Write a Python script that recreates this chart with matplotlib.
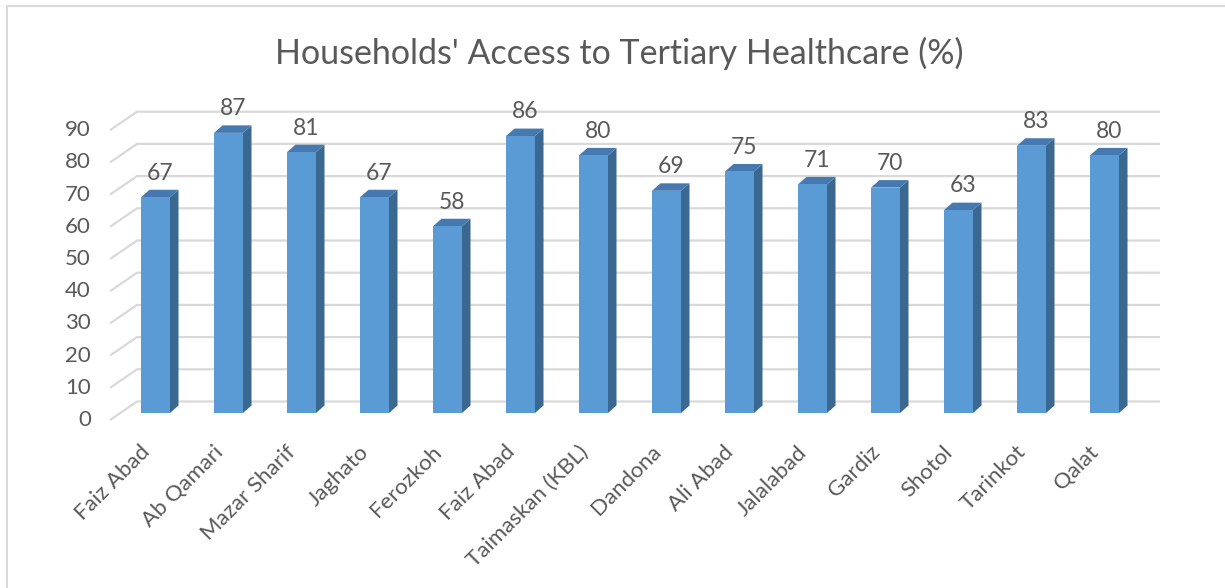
import matplotlib
matplotlib.use("Agg")
import matplotlib.pyplot as plt
from matplotlib.patches import Polygon, Rectangle

plt.rcParams['font.family'] = ['Lato', 'DejaVu Sans']

# Households' access to tertiary healthcare, by district (%)
districts = ['Faiz Abad', 'Ab Qamari', 'Mazar Sharif', 'Jaghato', 'Ferozkoh',
             'Faiz Abad', 'Taimaskan (KBL)', 'Dandona', 'Ali Abad', 'Jalalabad',
             'Gardiz', 'Shotol', 'Tarinkot', 'Qalat']
access_pct = [67, 87, 81, 67, 58, 86, 80, 69, 75, 71, 70, 63, 83, 80]
y_ticks = [0, 10, 20, 30, 40, 50, 60, 70, 80, 90]

TEXT = '#595959'
GRID = '#d9d9d9'
FRONT = '#5b9bd5'
TOP = '#4679b0'
SIDE = '#3a6891'

W, H = 1225, 588
# pixel layout of the plot: category 0 sits at x0, value 0 at y0
x0, x_step = 155.5, 73.0
y0, y_step = 413.0, 3.22

fig = plt.figure(figsize=(W / 100, H / 100), dpi=100)
ax = fig.add_axes([0, 0, 1, 1])
ax.set_xlim(-x0 / x_step, (W - x0) / x_step)
ax.set_ylim((y0 - H) / y_step, y0 / y_step)
ax.axis('off')

# 3-D look: depth of bars and of the back wall, in data units
bar_w = 29 / x_step
depth_x, depth_y = 8.5 / x_step, 7.5 / y_step
wall_front_x, wall_front_dy = -0.623, -7 / y_step
wall_back_x, wall_back_dy = -0.253, 11.5 / y_step
wall_end_x = 13.76

for v in y_ticks:
    ax.plot([wall_front_x, wall_back_x, wall_end_x],
            [v + wall_front_dy, v + wall_back_dy, v + wall_back_dy],
            color=GRID, lw=1.6, zorder=1, solid_capstyle='butt')
    ax.text(-0.884, v + wall_front_dy, str(v), ha='right', va='center',
            fontsize=16, color=TEXT)


def draw_bar(ax, x, v):
    l, r = x - bar_w / 2, x + bar_w / 2
    side = [(r, 0), (r + depth_x, depth_y), (r + depth_x, v + depth_y), (r, v)]
    top = [(l, v), (r, v), (r + depth_x, v + depth_y), (l + depth_x, v + depth_y)]
    ax.add_patch(Polygon(side, closed=True, facecolor=SIDE, edgecolor='none', zorder=2))
    ax.add_patch(Polygon(top, closed=True, facecolor=TOP, edgecolor='none', zorder=2))
    ax.add_patch(Rectangle((l, 0), bar_w, v, facecolor=FRONT, edgecolor='none', zorder=3))


for i, (name, v) in enumerate(zip(districts, access_pct)):
    draw_bar(ax, i, v)
    ax.text(i + depth_x / 2, v + 7.5, str(v), ha='center', va='center',
            fontsize=16.5, color=TEXT)
    ax.text(i - 0.12, (y0 - 449) / y_step, name, ha='right', va='center',
            rotation=45, rotation_mode='anchor', fontsize=16, color=TEXT)

fig.text(619 / W, 1 - 53 / H, "Households' Access to Tertiary Healthcare (%)",
         ha='center', va='center', fontsize=24.5, color=TEXT)

# chart frame (top and left edges visible)
fig.add_artist(plt.Line2D([7 / W, 7 / W, 1], [0, 1 - 6 / H, 1 - 6 / H],
                          transform=fig.transFigure, color=GRID, lw=1.5))

fig.savefig('out.png', dpi=100, facecolor='white')
